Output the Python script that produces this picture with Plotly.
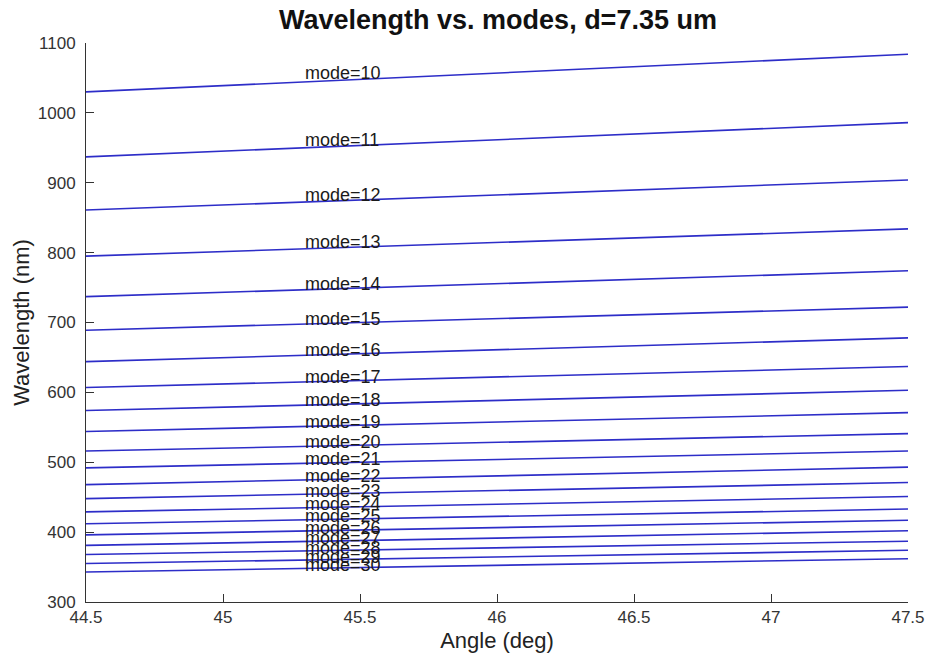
import plotly.graph_objects as go

modes = list(range(10, 31))
angle_start = 44.5
angle_end = 47.5
wl_start = [1030, 937, 861, 795, 737, 689, 644, 607, 574, 544, 516,
            492, 468, 448, 429, 412, 396, 381, 368, 355, 343]
wl_end = [1084, 986, 904, 834, 774, 722, 678, 637, 603, 571, 541,
          516, 493, 471, 451, 433, 417, 402, 387, 374, 362]
label_angle = 45.3
x_ticks = [44.5, 45, 45.5, 46, 46.5, 47, 47.5]
x_ticklabels = ["44.5", "45", "45.5", "46", "46.5", "47", "47.5"]
y_ticks = [300, 400, 500, 600, 700, 800, 900, 1000, 1100]

FONT = "Liberation Sans, Arial, Helvetica, sans-serif"

fig = go.Figure()
for m, a, b in zip(modes, wl_start, wl_end):
    fig.add_trace(go.Scatter(
        x=[angle_start, angle_end], y=[a, b], mode="lines",
        line=dict(color="rgb(45,45,200)", width=1.6),
        showlegend=False, hoverinfo="skip"))

annotations = []
for m, a, b in zip(modes, wl_start, wl_end):
    annotations.append(dict(
        x=label_angle, y=(a + b) / 2, xref="x", yref="y",
        text=f"mode={m}", showarrow=False, xanchor="left", yanchor="middle",
        xshift=-2,
        font=dict(family=FONT, size=18, color="#1a1a1a")))

fig.update_layout(
    width=930, height=658,
    margin=dict(l=86, r=22, t=43, b=56, autoexpand=False),
    paper_bgcolor="white", plot_bgcolor="white",
    title=dict(text="<b>Wavelength vs. modes, d=7.35 um</b>",
               x=0.5355, xanchor="center", y=0.970, yanchor="middle",
               font=dict(family=FONT, size=27, color="#111111")),
    annotations=annotations,
    xaxis=dict(range=[44.5, 47.5], tickvals=x_ticks, ticktext=x_ticklabels,
               ticks="inside", ticklen=8, tickcolor="#333333", tickwidth=1,
               showline=True, linecolor="#333333", linewidth=1,
               showgrid=False, zeroline=False, mirror=False, automargin=False,
               ticklabelstandoff=0, ticklabeloverflow="allow",
               tickfont=dict(family=FONT, size=17, color="#333333"),
               title=dict(text="Angle (deg)", standoff=6,
                          font=dict(family=FONT, size=22, color="#222222"))),
    yaxis=dict(range=[300, 1100], tickvals=y_ticks,
               ticks="inside", ticklen=8, tickcolor="#333333", tickwidth=1,
               showline=True, linecolor="#333333", linewidth=1,
               showgrid=False, zeroline=False, mirror=False, automargin=False,
               ticklabelstandoff=6, ticklabeloverflow="allow",
               tickfont=dict(family=FONT, size=17, color="#333333"),
               title=dict(text="Wavelength (nm)", standoff=2,
                          font=dict(family=FONT, size=22, color="#222222"))),
)

# remove the default page margin so the figure fills the 930x658 window
fig.write_html("out.html",
               config={"displayModeBar": False},
               post_script="document.body.style.margin='0';")
